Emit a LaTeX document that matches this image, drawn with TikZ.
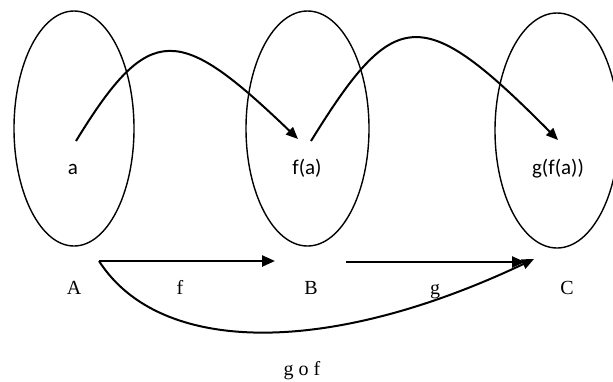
\documentclass[tikz,border=0pt]{standalone}
\usepackage{fontspec}
\setmainfont{Liberation Serif}
\newfontfamily\elemfont{Carlito}
\usetikzlibrary{shapes.geometric,arrows.meta}
\begin{document}
\begin{tikzpicture}[x=0.5pt,y=-0.5pt,
  set/.style={draw, ellipse, line width=0.7pt, minimum width=60pt, minimum height=117.5pt},
  elem/.style={font=\elemfont\fontsize{10.5}{12}\selectfont},
  setname/.style={anchor=base, font=\fontsize{10}{12}\selectfont},
  map/.style={line width=1pt, -{Triangle[length=6pt,width=5pt]}},
  func/.style={line width=1.2pt, -{Triangle[length=6.5pt,width=5.5pt]}}]
\useasboundingbox (0,0) rectangle (613,381);
\clip (0,0) rectangle (613,381);
% the three sets
\node[set] (setA) at (74,128.5) {};
\node[set, minimum width=61.5pt] (setB) at (307.5,128.5) {};
\node[set, minimum width=62pt] (setC) at (557,130.5) {};
% elements
\node[elem] (a) at (73,169) {a};
\node[elem] (fa) at (307,168) {f(a)};
\node[elem] (gfa) at (558,169) {g(f(a))};
% names below the sets
\node[setname] (A) at (74,294) {A};
\node[setname] (B) at (311,294) {B};
\node[setname] (C) at (567,294) {C};
\node[setname] (f) at (180,294) {f};
\node[setname] (g) at (435,294) {g};
\node[setname] (gof) at (302,375) {g o f};
% element maps
\draw[map] ([shift={(3,-28)}]a.center) .. controls (150,20) and (179,25) .. ([shift={(-9,-29)}]fa.center);
\draw[map] ([shift={(4,-27)}]fa.center) .. controls (395,5) and (422,3) .. ([shift={(0,-29)}]gfa.center);
% function arrows
\draw[func] ([shift={(25,-33)}]A.base) -- ([shift={(-36,-33)}]B.base);
\draw[func] ([shift={(35,-32)}]B.base) -- ([shift={(-42,-32)}]C.base);
\draw[map] ([shift={(25,-33)}]A.base) .. controls (160,356) and (329,356) .. ([shift={(-33,-35)}]C.base);
\end{tikzpicture}
\end{document}
